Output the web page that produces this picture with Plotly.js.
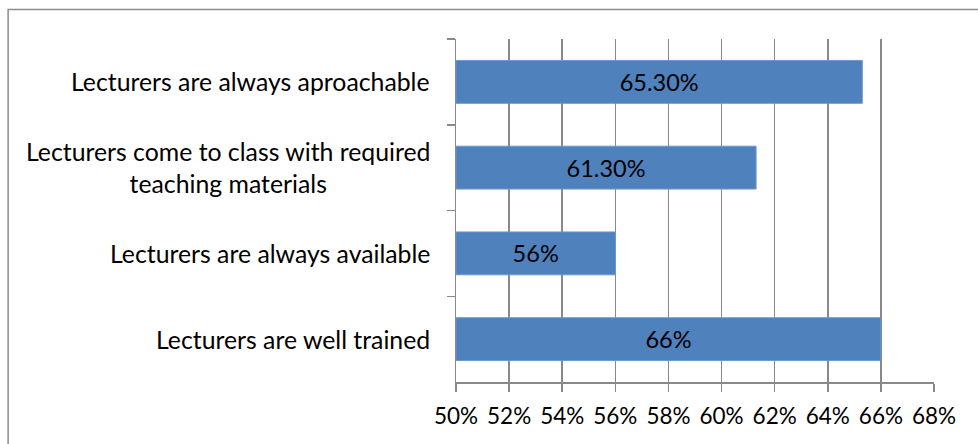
<!DOCTYPE html>
<html>
<head>
<meta charset="utf-8">
<script src="https://cdn.plot.ly/plotly-3.0.1.min.js"></script>
<style>
html,body{margin:0;padding:0;background:#fff;}
#chart{width:978px;height:444px;}
</style>
</head>
<body>
<div id="chart"></div>
<script>
// ---- data ----
const categories = [
  "Lecturers are always aproachable",
  "Lecturers come to class with required<br>teaching materials",
  "Lecturers are always available",
  "Lecturers are well trained"
];
const values = [65.3, 61.3, 56, 66];
const valueLabels = ["65.30%", "61.30%", "56%", "66%"];
const axisMin = 50;
const axisMax = 68;
const axisStep = 2;

// ---- chart ----
const FONT = "Lato, 'Open Sans', sans-serif";
const GRID = "#898989";

const trace = {
  type: "bar",
  orientation: "h",
  y: categories,
  base: values.map(() => axisMin),
  x: values.map(v => v - axisMin),
  width: 0.5,
  marker: { color: "#4F81BD", line: { color: "#6A98CF", width: 1 } },
  text: valueLabels,
  textposition: "inside",
  insidetextanchor: "middle",
  textangle: 0,
  constraintext: "none",
  textfont: { family: FONT, size: 23.5, color: "#000" },
  hoverinfo: "skip"
};

const annotations = categories.map(c => ({
  xref: "paper", yref: "y",
  x: 0, y: c,
  xanchor: "right", yanchor: "middle",
  xshift: -24,
  align: "center",
  text: c,
  showarrow: false,
  font: { family: FONT, size: 24.8, color: "#000" }
}));

const layout = {
  width: 978, height: 444,
  margin: { l: 456, r: 44, t: 39, b: 62 },
  paper_bgcolor: "#fff",
  plot_bgcolor: "#fff",
  showlegend: false,
  font: { family: FONT, size: 22, color: "#000" },
  xaxis: {
    range: [axisMin, axisMax],
    dtick: axisStep,
    tick0: axisMin,
    ticksuffix: "%",
    showgrid: true,
    gridcolor: GRID,
    gridwidth: 1.5,
    zeroline: false,
    showline: true,
    linecolor: GRID,
    linewidth: 1.5,
    ticks: "outside",
    ticklen: 8,
    tickwidth: 1.5,
    tickcolor: GRID,
    ticklabelstandoff: 5,
    tickfont: { family: FONT, size: 22.5, color: "#000" },
    fixedrange: true
  },
  yaxis: {
    type: "category",
    categoryorder: "array",
    categoryarray: categories,
    autorange: false,
    range: [categories.length - 0.5, -0.5],
    showticklabels: false,
    showgrid: false,
    zeroline: false,
    showline: true,
    linecolor: GRID,
    linewidth: 1.5,
    ticks: "outside",
    tickson: "boundaries",
    ticklen: 8,
    tickwidth: 1.5,
    tickcolor: GRID,
    fixedrange: true
  },
  annotations: annotations,
  shapes: [{
    type: "rect", xref: "paper", yref: "paper",
    x0: -0.937, x1: 1.2, y0: -0.3, y1: 1.086,
    line: { color: "#8c8c8c", width: 1.5 },
    fillcolor: "rgba(0,0,0,0)",
    layer: "below"
  }],
  bargap: 0.5
};

Plotly.newPlot("chart", [trace], layout, { displayModeBar: false, staticPlot: true });
</script>
</body>
</html>
